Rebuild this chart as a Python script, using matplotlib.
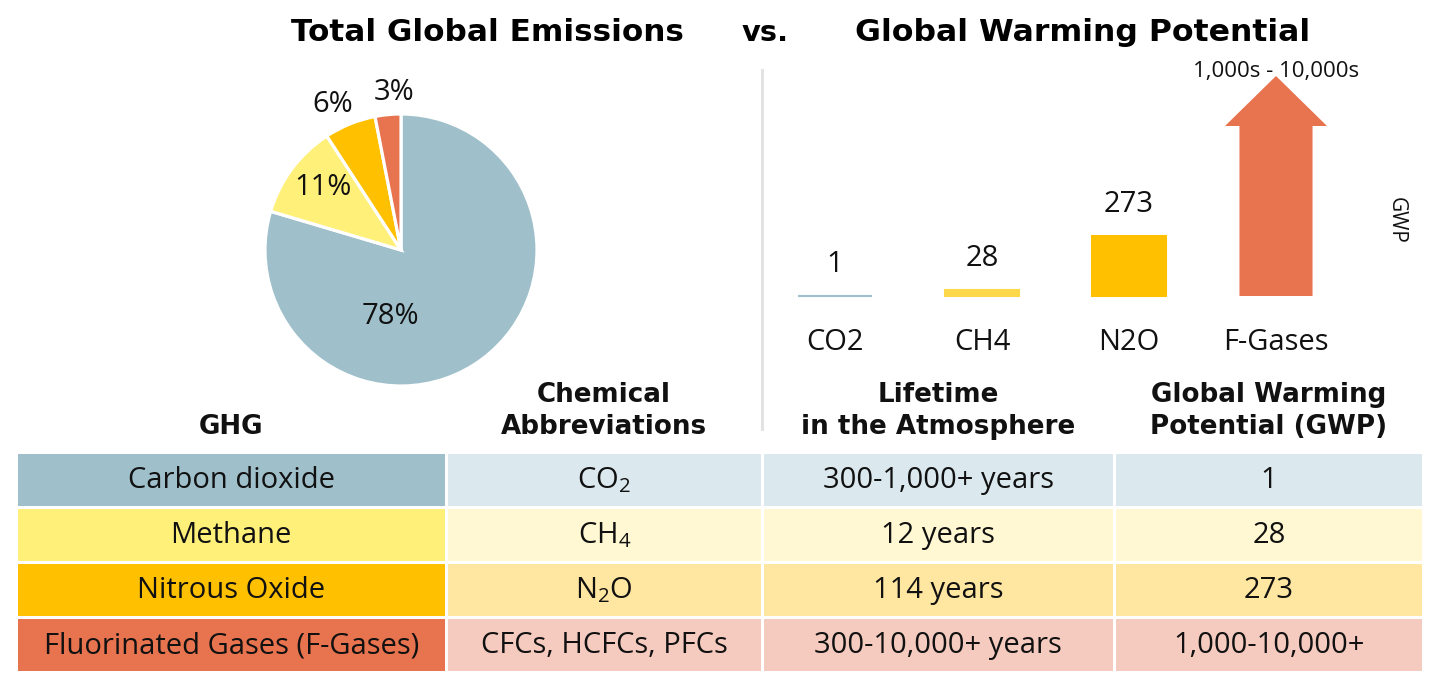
import matplotlib
matplotlib.use("Agg")
import matplotlib.pyplot as plt
from matplotlib.patches import Rectangle
from matplotlib.lines import Line2D

# ---------------- data ----------------
gases = ["CO2", "CH4", "N2O", "F-Gases"]
emission_share = [78, 11, 6, 3]
gwp_values = [1, 28, 273, 1000]
gwp_labels = ["1", "28", "273", "1,000s - 10,000s"]

table_header = ["GHG", "Chemical\nAbbreviations", "Lifetime\nin the Atmosphere",
                "Global Warming\nPotential (GWP)"]
ghg_names = ["Carbon dioxide", "Methane", "Nitrous Oxide", "Fluorinated Gases (F-Gases)"]
abbreviations = ["CO$_\\mathregular{2}$", "CH$_\\mathregular{4}$", "N$_\\mathregular{2}$O",
                 "CFCs, HCFCs, PFCs"]
lifetimes = ["300-1,000+ years", "12 years", "114 years", "300-10,000+ years"]
gwp_text = ["1", "28", "273", "1,000-10,000+"]

# ---------------- styles ----------------
main_colors = ["#9fc0cb", "#fff07a", "#ffc000", "#e8734f"]
bar_colors = ["#9fc0cb", "#fdd84a", "#ffc000", "#e8734f"]
light_colors = ["#dbe9ee", "#fff8d2", "#ffe6a1", "#f5cbbf"]

plt.rcParams["font.family"] = ["Open Sans", "DejaVu Sans"]
plt.rcParams["mathtext.fontset"] = "custom"
plt.rcParams["mathtext.rm"] = "Open Sans"

W, H = 1447, 679
fig = plt.figure(figsize=(W / 100, H / 100), dpi=100)
fig.patch.set_facecolor("white")


def fx(x):
    return x / W


def fy(y):
    return 1 - y / H


PT = 72 / 100  # points per pixel
renderer = fig.canvas.get_renderer()
HEAD_FONT = ["DejaVu Sans"]
BODY = 21


def fit_text(x, y, s, target_w, **kw):
    t = fig.text(fx(x), fy(y), s, fontsize=20, **kw)
    w = t.get_window_extent(renderer).width
    t.set_fontsize(20 * target_w / w)
    return t


# ---------------- titles ----------------
fit_text(487.5, 41, "Total Global Emissions", 393, family=HEAD_FONT, weight="bold",
         ha="center", va="baseline")
fit_text(765.5, 41, "vs.", 47, family=HEAD_FONT, weight="bold", ha="center", va="baseline")
fit_text(1082.5, 41, "Global Warming Potential", 455, family=HEAD_FONT, weight="bold",
         ha="center", va="baseline")

# ---------------- pie ----------------
R = 136
cx, cy = 401, 250
half = 150
ax_pie = fig.add_axes([fx(cx - half), fy(cy + half), 2 * half / W, 2 * half / H])
ax_pie.pie(emission_share, colors=main_colors, startangle=90, counterclock=False, radius=1,
           wedgeprops=dict(edgecolor="white", linewidth=2.3))
ax_pie.set_xlim(-half / R, half / R)
ax_pie.set_ylim(-half / R, half / R)
ax_pie.set_aspect("equal")
ax_pie.axis("off")
pie_label_pos = [(-0.08, -0.49), (-0.57, 0.46), (-0.50, 1.07), (-0.05, 1.16)]
for v, (lx, ly) in zip(emission_share, pie_label_pos):
    ax_pie.text(lx, ly, f"{v}%", ha="center", va="center", fontsize=BODY, color="#111111",
                clip_on=False)

# ---------------- divider ----------------
fig.add_artist(Line2D([fx(762), fx(762)], [fy(70), fy(429)], color="#e3e3e3",
                      linewidth=3 * PT))

# ---------------- GWP bars ----------------
base_px, top_px = 296, 54
left_px, right_px = 761.5, 1349.5
ymax = 1100
ax_bar = fig.add_axes([fx(left_px), fy(base_px), (right_px - left_px) / W,
                       (base_px - top_px) / H])
ax_bar.set_xlim(-0.5, 3.5)
ax_bar.set_ylim(0, ymax)
ax_bar.axis("off")
xs = list(range(len(gases)))
ax_bar.bar(xs[:3], gwp_values[:3], width=0.5, color=bar_colors[:3],
           edgecolor=bar_colors[:3], linewidth=1.5, clip_on=False)
px_per_unit = (base_px - top_px) / ymax
ax_bar.arrow(xs[3], 0, 0, gwp_values[3], width=0.497, head_width=0.694,
             head_length=50 / px_per_unit, length_includes_head=True,
             color=bar_colors[3], linewidth=0)
for i in range(3):
    ax_bar.annotate(gwp_labels[i], xy=(xs[i], gwp_values[i]), xytext=(0, 31 * PT),
                    textcoords="offset points", ha="center", va="center", fontsize=BODY,
                    color="#111111", annotation_clip=False)
ax_bar.annotate(gwp_labels[3], xy=(xs[3], gwp_values[3]), xytext=(0, 5 * PT),
                textcoords="offset points", ha="center", va="center", fontsize=16,
                color="#111111", annotation_clip=False)
for i, g in enumerate(gases):
    ax_bar.annotate(g, xy=(xs[i], 0), xytext=(0, -46 * PT), textcoords="offset points",
                    ha="center", va="center", fontsize=BODY, color="#111111",
                    annotation_clip=False)
fig.text(fx(1396), fy(220), "GWP", rotation=270, ha="center", va="center", fontsize=15,
         color="#111111")

# ---------------- table ----------------
ax_t = fig.add_axes([0, 0, 1, 1])
ax_t.set_xlim(0, W)
ax_t.set_ylim(H, 0)
ax_t.axis("off")
ax_t.set_zorder(-1)
x0, y0 = 18, 454
col_pitch = [430, 316, 352, 309.5]
row_pitch = 55.1
gap = 3.5
columns = [ghg_names, abbreviations, lifetimes, gwp_text]
col_left = [x0]
for p in col_pitch[:-1]:
    col_left.append(col_left[-1] + p)

for r in range(len(ghg_names)):
    top = y0 + r * row_pitch
    for c in range(len(columns)):
        color = main_colors[r] if c == 0 else light_colors[r]
        ax_t.add_patch(Rectangle((col_left[c], top), col_pitch[c] - gap, row_pitch - gap,
                                 facecolor=color, edgecolor="none"))
        ax_t.text(col_left[c] + (col_pitch[c] - gap) / 2, top + (row_pitch - gap) / 2 + 8,
                  columns[c][r], ha="center", va="baseline", fontsize=BODY, color="#111111")

# headers
head_texts = []
head_size = 20
for c, htxt in enumerate(table_header):
    xc = col_left[c] + (col_pitch[c] - gap) / 2
    lines = htxt.split("\n")
    for k, line in enumerate(reversed(lines)):
        yb = 434 - 32 * k
        t = fig.text(fx(xc), fy(yb), line, ha="center", va="baseline", family=HEAD_FONT,
                     weight="bold", fontsize=20, color="#111111")
        head_texts.append(t)
        if line == "in the Atmosphere":
            w = t.get_window_extent(renderer).width
            head_size = 20 * 273 / w
for t in head_texts:
    t.set_fontsize(head_size)

fig.savefig("out.png", dpi=100, facecolor="white")
